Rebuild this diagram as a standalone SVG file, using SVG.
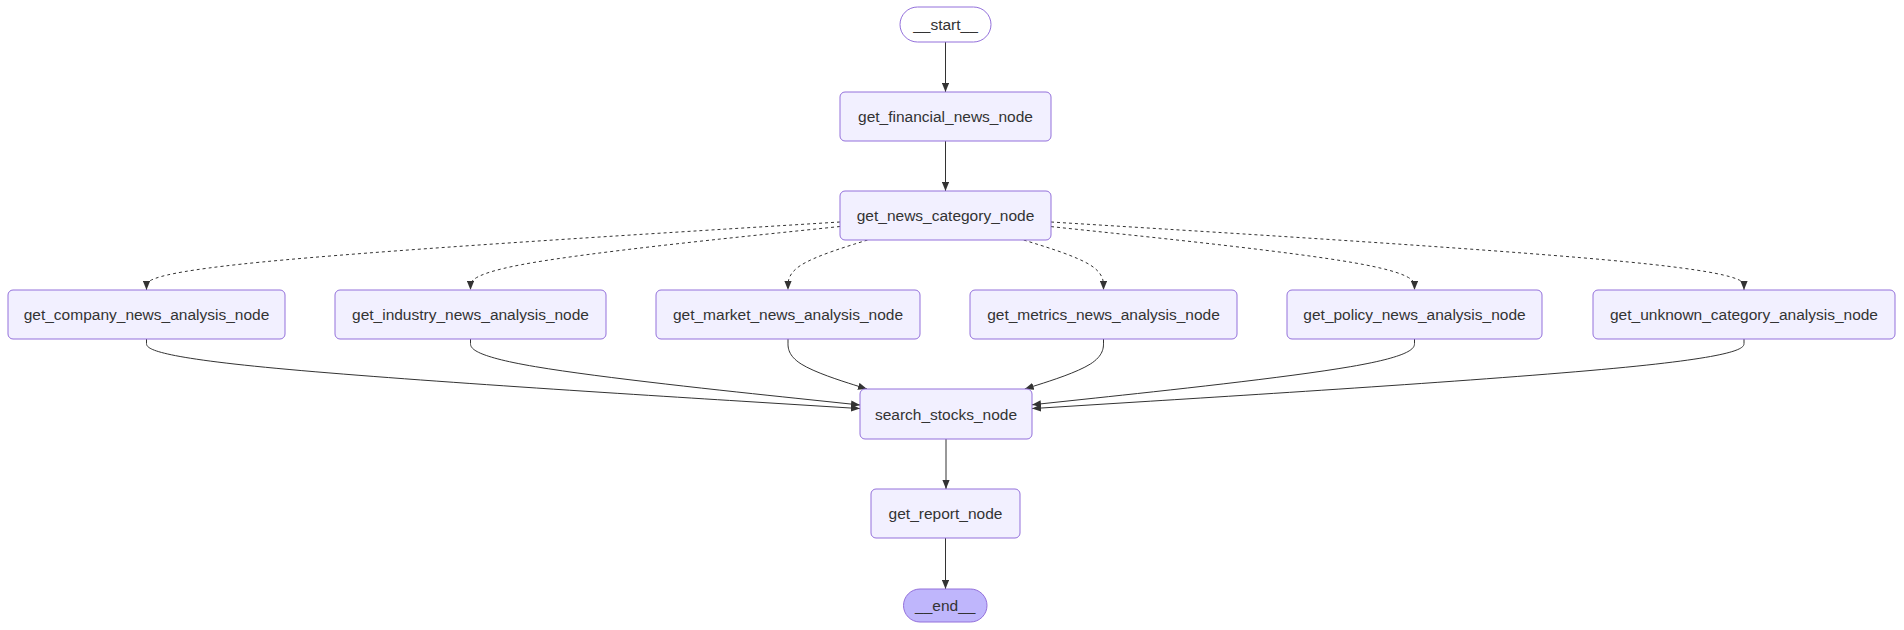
<svg xmlns="http://www.w3.org/2000/svg" width="1904" height="630" viewBox="0 0 1904 630">
<style>
.node rect{fill:#f2f0ff;stroke:#9370DB;stroke-width:1}
#start rect{fill:#ffffff}
#end rect{fill:#bfb6fc}
.node text{font-family:"Liberation Sans",Arial,sans-serif;font-size:15.5px;fill:#333333;text-anchor:middle;dominant-baseline:central}
.edge{fill:none;stroke:#333333;stroke-width:1}
.dotted{stroke-dasharray:3}
</style>
<defs>
<marker id="arrow" viewBox="0 0 10 8" refX="10" refY="4" markerWidth="9" markerHeight="7.2" markerUnits="userSpaceOnUse" orient="auto">
<path d="M0,0 L10,4 L0,8 z" fill="#333333" stroke="none"/>
</marker>
</defs>
<rect width="1904" height="630" fill="#ffffff"/>
<g id="connectors">
<path class="edge" marker-end="url(#arrow)" d="M945.5,42 L945.5,92"/>
<path class="edge" marker-end="url(#arrow)" d="M945.5,141 L945.5,191"/>
<path class="edge dotted" marker-end="url(#arrow)" d="M840,222 L724.42,229.17 C608.83,236.33 377.67,250.67 262.08,262 C146.5,273.33 146.5,281.67 146.5,285.83 L146.5,290"/>
<path class="edge dotted" marker-end="url(#arrow)" d="M840,226.5 L778.42,232.92 C716.83,239.33 593.67,252.17 532.08,262.75 C470.5,273.33 470.5,281.67 470.5,285.83 L470.5,290"/>
<path class="edge dotted" marker-end="url(#arrow)" d="M867.5,240 L854.25,244.17 C841,248.33 814.5,256.67 801.25,265 C788,273.33 788,281.67 788,285.83 L788,290"/>
<path class="edge dotted" marker-end="url(#arrow)" d="M1023.7,240 L1037,244.17 C1050.3,248.33 1076.9,256.67 1090.2,265 C1103.5,273.33 1103.5,281.67 1103.5,285.83 L1103.5,290"/>
<path class="edge dotted" marker-end="url(#arrow)" d="M1051,226.6 L1111.58,233 C1172.17,239.4 1293.33,252.2 1353.92,262.77 C1414.5,273.33 1414.5,281.67 1414.5,285.83 L1414.5,290"/>
<path class="edge dotted" marker-end="url(#arrow)" d="M1051,222 L1166.5,229.17 C1282,236.33 1513,250.67 1628.5,262 C1744,273.33 1744,281.67 1744,285.83 L1744,290"/>
<path class="edge" marker-end="url(#arrow)" d="M146.5,339 L146.5,343.17 C146.5,347.33 146.5,355.67 265.42,367.27 C384.33,378.87 622.17,393.73 741.08,401.17 L860,408.6"/>
<path class="edge" marker-end="url(#arrow)" d="M470.5,339 L470.5,343.17 C470.5,347.33 470.5,355.67 535.42,366.67 C600.33,377.67 730.17,391.33 795.08,398.17 L860,405"/>
<path class="edge" marker-end="url(#arrow)" d="M788,339 L788,343.17 C788,347.33 788,355.67 801.17,364 C814.33,372.33 840.67,380.67 853.83,384.83 L867,389"/>
<path class="edge" marker-end="url(#arrow)" d="M1103.5,339 L1103.5,343.17 C1103.5,347.33 1103.5,355.67 1090.38,364 C1077.25,372.33 1051,380.67 1037.88,384.83 L1024.75,389"/>
<path class="edge" marker-end="url(#arrow)" d="M1414.5,339 L1414.5,343.17 C1414.5,347.33 1414.5,355.67 1350.75,366.63 C1287,377.6 1159.5,391.2 1095.75,398 L1032,404.8"/>
<path class="edge" marker-end="url(#arrow)" d="M1744,339 L1744,343.17 C1744,347.33 1744,355.67 1625.33,367.27 C1506.67,378.87 1269.33,393.73 1150.67,401.17 L1032,408.6"/>
<path class="edge" marker-end="url(#arrow)" d="M946,439 L946,489"/>
<path class="edge" marker-end="url(#arrow)" d="M945.5,538 L945.5,589"/>
</g>
<g id="start" class="node"><rect x="900" y="7" width="91" height="35" rx="17.5"/><text x="945.5" y="24.5">__start__</text></g>
<g id="get_financial_news_node" class="node"><rect x="840" y="92" width="211" height="49" rx="5"/><text x="945.5" y="116.5">get_financial_news_node</text></g>
<g id="get_news_category_node" class="node"><rect x="840" y="191" width="211" height="49" rx="5"/><text x="945.5" y="215.5">get_news_category_node</text></g>
<g id="get_company_news_analysis_node" class="node"><rect x="8" y="290" width="277" height="49" rx="5"/><text x="146.5" y="314.5">get_company_news_analysis_node</text></g>
<g id="get_industry_news_analysis_node" class="node"><rect x="335" y="290" width="271" height="49" rx="5"/><text x="470.5" y="314.5">get_industry_news_analysis_node</text></g>
<g id="get_market_news_analysis_node" class="node"><rect x="656" y="290" width="264" height="49" rx="5"/><text x="788" y="314.5">get_market_news_analysis_node</text></g>
<g id="get_metrics_news_analysis_node" class="node"><rect x="970" y="290" width="267" height="49" rx="5"/><text x="1103.5" y="314.5">get_metrics_news_analysis_node</text></g>
<g id="get_policy_news_analysis_node" class="node"><rect x="1287" y="290" width="255" height="49" rx="5"/><text x="1414.5" y="314.5">get_policy_news_analysis_node</text></g>
<g id="get_unknown_category_analysis_node" class="node"><rect x="1593" y="290" width="302" height="49" rx="5"/><text x="1744" y="314.5">get_unknown_category_analysis_node</text></g>
<g id="search_stocks_node" class="node"><rect x="860" y="389" width="172" height="50" rx="5"/><text x="946" y="414">search_stocks_node</text></g>
<g id="get_report_node" class="node"><rect x="871" y="489" width="149" height="49" rx="5"/><text x="945.5" y="513.5">get_report_node</text></g>
<g id="end" class="node"><rect x="903.5" y="589" width="83.5" height="33" rx="16.5"/><text x="945.25" y="605.5">__end__</text></g>
</svg>
